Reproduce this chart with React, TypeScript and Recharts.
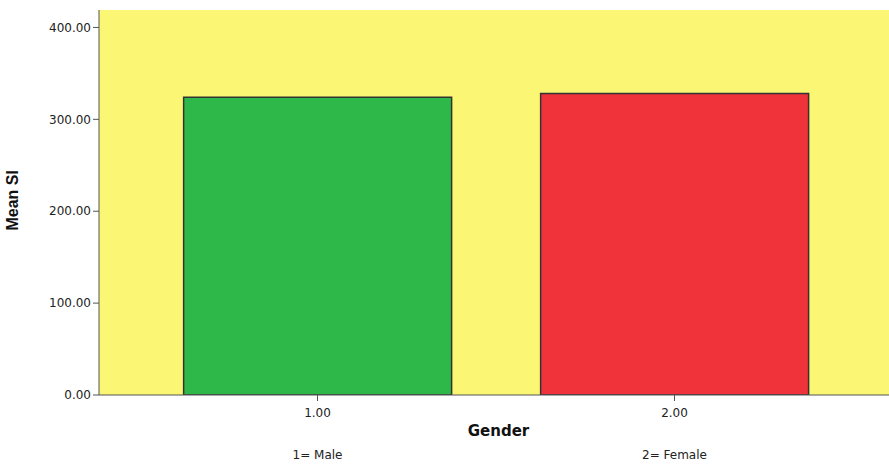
import { BarChart, Bar, XAxis, YAxis, Cell, Label, CartesianGrid } from 'recharts';

const genders = ['1.00', '2.00'];
const genderNames = ['1= Male', '2= Female'];
const meanSI = [324, 328];
const barColors = ['#2fb84a', '#f0333a'];
const yTicks = [0, 100, 200, 300, 400];

const data = genders.map((g, i) => ({ gender: g, name: genderNames[i], mean: meanSI[i] }));

const GenderTick = (props: any) => {
  const { x, y, payload, index } = props;
  return (
    <g>
      <text x={x} y={y + 14} textAnchor="middle" fontSize={12} fill="#222" fontFamily="DejaVu Sans">
        {payload.value}
      </text>
      <text x={x} y={y + 56} textAnchor="middle" fontSize={12} fill="#222" fontFamily="DejaVu Sans">
        {genderNames[index]}
      </text>
    </g>
  );
};

export default function App() {
  return (
    <div style={{ position: 'absolute', left: 0, top: 0, background: '#fff', width: 889, height: 464 }}>
      <BarChart width={889} height={464} data={data} margin={{ top: 10, right: -9, bottom: 0, left: 0 }} barCategoryGap="12.5%">
        <CartesianGrid fill="#fbf774" stroke="none" />
        <XAxis
          dataKey="gender"
          height={69}
          padding={{ left: 40, right: 45 }}
          tick={<GenderTick />}
          tickLine={{ stroke: '#555' }}
          axisLine={{ stroke: '#555' }}
          interval={0}
        >
          <Label value="Gender" position="insideTop" offset={30} style={{ fontWeight: 'bold', fontSize: 15, fill: '#111', fontFamily: 'DejaVu Sans' }} />
        </XAxis>
        <YAxis
          width={99}
          domain={[0, 419]}
          ticks={yTicks}
          tickFormatter={(v: number) => v.toFixed(2)}
          tick={{ fontSize: 12, fill: '#222', fontFamily: 'DejaVu Sans' }}
          tickLine={{ stroke: '#555' }}
          axisLine={{ stroke: '#555' }}
          allowDataOverflow
        >
          <Label value="Mean SI" angle={-90} position="insideLeft" offset={12} dy={28} style={{ fontWeight: 'bold', fontSize: 16, fill: '#111', fontFamily: 'Liberation Sans Narrow, Liberation Sans' }} />
        </YAxis>
        <Bar dataKey="mean" stroke="#333" strokeWidth={1.5} isAnimationActive={false}>
          {data.map((d, i) => (
            <Cell key={d.gender} fill={barColors[i]} />
          ))}
        </Bar>
      </BarChart>
    </div>
  );
}
